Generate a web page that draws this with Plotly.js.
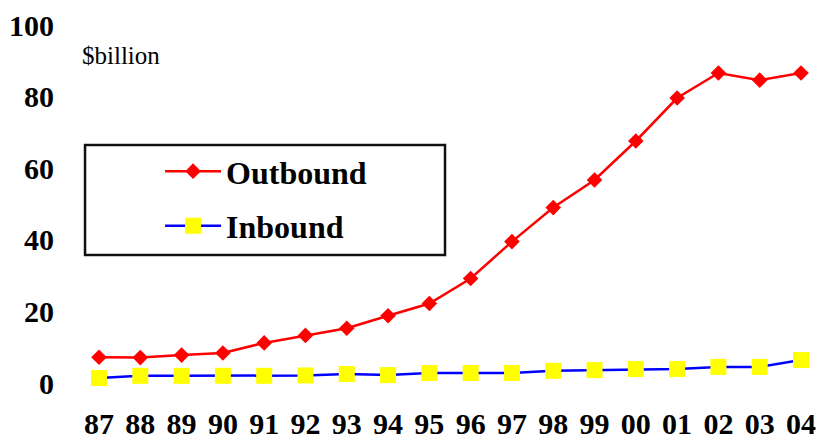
<!DOCTYPE html>
<html>
<head>
<meta charset="utf-8">
<script src="https://cdn.plot.ly/plotly-3.0.1.min.js"></script>
<style>
  html, body { margin: 0; padding: 0; background: #fff; }
  #chart { width: 817px; height: 440px; }
</style>
</head>
<body>
<div id="chart"></div>
<script>
// Years (two-digit labels) and flows in $billion
const years = ['87','88','89','90','91','92','93','94','95','96','97','98','99','00','01','02','03','04'];
const outbound = [7.2, 7.1, 7.8, 8.4, 11.2, 13.3, 15.3, 18.8, 22.2, 29.2, 39.5, 49.0, 56.7, 67.6, 79.6, 86.6, 84.6, 86.6];
const inbound  = [1.4, 2.0, 2.0, 2.0, 2.0, 2.1, 2.5, 2.2, 2.8, 2.8, 2.8, 3.4, 3.6, 3.9, 3.9, 4.5, 4.5, 6.4];

const serifFamily = 'Liberation Serif';

const traces = [
  {
    x: years, y: outbound, name: 'Outbound', type: 'scatter', mode: 'lines+markers',
    legendgroup: 'out',
    line: { color: '#ff0000', width: 2.5 },
    marker: { symbol: 'diamond', size: 12, color: '#ff0000' },
    cliponaxis: false
  },
  {
    x: years, y: inbound, name: 'Inbound', type: 'scatter', mode: 'lines+markers',
    legendgroup: 'in',
    line: { color: '#0000ff', width: 2.5 },
    marker: { symbol: 'square', size: 16, color: '#ffff00' },
    cliponaxis: false
  }
];

const layout = {
  width: 817, height: 440,
  margin: { l: 99, r: 16, t: 25, b: 57 },
  paper_bgcolor: '#ffffff', plot_bgcolor: '#ffffff',
  xaxis: {
    type: 'category', range: [0, 17],
    showgrid: false, zeroline: false, showline: false, ticks: '',
    ticklabelstandoff: 20,
    tickfont: { family: serifFamily, size: 30, weight: 'bold', color: '#000' }
  },
  yaxis: {
    range: [0, 100], tickvals: [0, 20, 40, 60, 80, 100],
    showgrid: false, zeroline: false, showline: false, ticks: '',
    ticklabelstandoff: 44,
    tickfont: { family: serifFamily, size: 30, weight: 'bold', color: '#000' }
  },
  showlegend: true,
  legend: {
    x: 0.087, y: 0.668, xanchor: 'left', yanchor: 'top',
    bgcolor: 'rgba(0,0,0,0)', borderwidth: 0,
    itemwidth: 56, tracegroupgap: 10,
    font: { family: serifFamily, size: 32, weight: 'bold', color: '#000' }
  },
  shapes: [
    { type: 'rect', xref: 'paper', yref: 'paper',
      x0: -0.0199, x1: 0.4929, y0: 0.3575, y1: 0.6648,
      line: { color: '#111111', width: 2.5 }, fillcolor: 'rgba(0,0,0,0)', layer: 'below' }
  ],
  annotations: [
    { text: '$billion', xref: 'paper', yref: 'paper', x: -0.027, y: 0.916,
      xanchor: 'left', yanchor: 'middle', showarrow: false,
      font: { family: serifFamily, size: 25, color: '#000' } }
  ]
};

Plotly.newPlot('chart', traces, layout, { displayModeBar: false, staticPlot: true });
</script>
</body>
</html>
